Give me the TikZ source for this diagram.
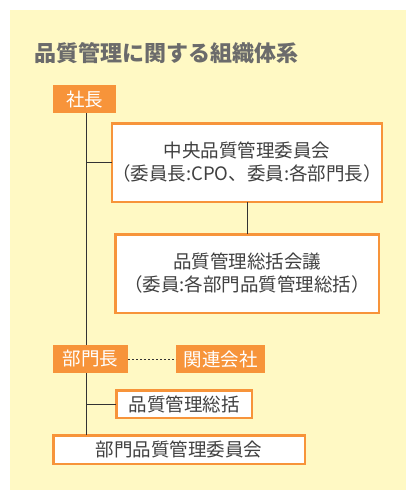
\documentclass[tikz,border=0pt]{standalone}
\usepackage{fontspec}
\setmainfont{Noto Sans CJK JP}
\definecolor{bgyellow}{HTML}{FFF9C4}
\definecolor{orng}{HTML}{F7943A}
\definecolor{txtgray}{HTML}{404040}
\definecolor{ttlgray}{HTML}{6B6B6B}
\definecolor{lnc}{HTML}{333333}
\tikzset{
  orangelabel/.style={fill=orng, text=white, inner sep=0pt, outer sep=0pt, font=\fontsize{18.5}{22}\selectfont},
  whitebox/.style={draw=orng, line width=2.5pt, fill=white, text=txtgray, inner sep=0pt, outer sep=0pt, align=center, font=\fontsize{18.5}{23}\selectfont},
  conn/.style={draw=lnc, line width=1pt},
}
\begin{document}
\begin{tikzpicture}[x=1pt,y=-1pt]
\useasboundingbox (0,0) rectangle (406,490);
\fill[bgyellow] (10,10) rectangle (406,490);
\node[anchor=west, text=ttlgray, font=\fontsize{22}{24}\selectfont\bfseries, inner sep=0pt] (title) at (34,53) {品質管理に関する組織体系};
\node[orangelabel, minimum width=63pt, minimum height=28pt] (shacho) at (84.5,99) {社長};
\node[whitebox, minimum width=263.5pt, minimum height=78.5pt] (box1) at (247,162.5) {中央品質管理委員会\\（委員長:CPO、委員:各部門長）};
\node[whitebox, minimum width=263.5pt, minimum height=78.5pt] (box2) at (247,273.5) {品質管理総括会議\\（委員:各部門品質管理総括）};
\node[orangelabel, minimum width=75pt, minimum height=28pt] (bumon) at (90.5,359) {部門長};
\node[orangelabel, minimum width=89pt, minimum height=28pt] (kanren) at (220.5,359) {関連会社};
\node[whitebox, minimum width=135.5pt, minimum height=27.5pt] (sokatsu) at (184,404) {品質管理総括};
\node[whitebox, minimum width=251.5pt, minimum height=28.5pt] (iinkai) at (179,449.5) {部門品質管理委員会};
\coordinate (trunk) at (86,0);
\draw[conn] (shacho.south -| trunk) -- (bumon.north -| trunk);
\draw[conn] (bumon.south -| trunk) -- (iinkai.north -| trunk);
\draw[conn] (trunk |- box1.west) -- (box1.west);
\draw[conn] (trunk |- sokatsu.west) -- (sokatsu.west);
\draw[conn] (box1.south) -- (box2.north);
\draw[conn, dash pattern=on 2pt off 2pt] (bumon.east) -- (kanren.west);
\end{tikzpicture}
\end{document}
